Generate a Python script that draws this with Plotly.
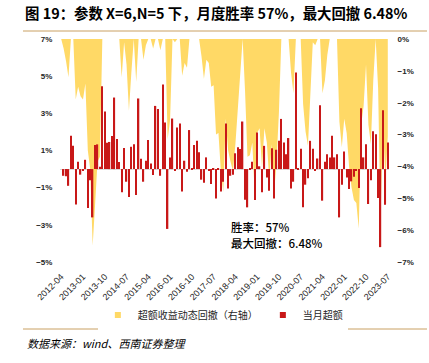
import pandas as pd
import plotly.graph_objects as go

# Months (category axis)
months = list(pd.period_range("2012-04", periods=136, freq="M").strftime("%Y-%m"))
tick_labels = ["2012-04", "2013-01", "2013-10", "2014-07", "2015-04", "2016-01",
               "2016-10", "2017-07", "2018-04", "2019-01", "2019-10", "2020-07",
               "2021-04", "2022-01", "2022-10", "2023-07"]

# Monthly excess return (%) - left axis
monthly_excess = [
    0.0,
    -0.36, -0.38, -0.9, 1.8, 1.25, -1.9, 0.4, -0.3, -0.1, 0.5,
    -2.1, -0.6, -2.6, 1.3, 1.33, 0.12, 4.46, 3.1, 1.42, 1.46,
    1.78, 3.85, 1.62, 0.38, -1.25, 1.13, -0.68, -1.5, 1.2, 1.33,
    -1.4, 3.8, 0.55, -0.68, 0.45, 1.57, 0.3, -0.32, 3.4, 3.23,
    -0.36, 4.55, 2.5, -3.22, 0.63, 2.72, -0.1, 2.24, 2.45, -1.2,
    0.45, -0.14, 2.1, 0.05, 1.3, 1.52, 0.9, -0.57, -0.73, 0.63,
    -0.1, -0.8, 0.05, -1.58, 0.05, -1.2, -0.68, 2.45, -1.04, -0.36,
    -0.3, 0.85, 1.17, 1.08, 2.56, -1.65, -2.06, 0.05, 0.4, -1.67,
    1.97, 0.15, -1.25, 1.25, -0.45, -1.17, 1.12, -1.58, 1.04, 1.52,
    2.7, 1.43, 0.8, 1.67, -1.04, -0.68, 5.2, 0.03, 1.1, -2.06,
    -0.84, -0.5, 1.52, 1.1, -0.1, 0.57, 3.44, -1.7, 0.4, 0.8,
    0.63, 1.8, 0.63, 0.8, -2.6, -0.84, 0.95, -0.45, -1.07, -0.66,
    -0.41, -0.1, -1.02, 3.28, 0.63, 1.34, -1.88, -0.6, 2.03, 1.88,
    -1.56, -4.2, 3.17, -1.92, 1.43,
]

# Dynamic drawdown of excess return (%) - right axis
drawdown = [
    0.0,
    -0.3, -0.7, -1.2, 0.0, 0.0, -1.9, -1.5, -1.8, -1.9, -1.4,
    -3.5, -4.1, -6.48, -5.2, -3.85, -3.7, 0.0, 0.0, 0.0, 0.0,
    0.0, 0.0, 0.0, 0.0, -1.2, -0.1, -0.8, -2.25, -1.05, 0.0,
    -1.35, 0.0, 0.0, -0.65, -0.2, 0.0, 0.0, -0.3, 0.0, 0.0,
    -0.35, 0.0, 0.0, -3.15, -2.55, 0.0, -0.1, 0.0, 0.0, -1.15,
    -0.75, -0.9, 0.0, 0.0, 0.0, 0.0, 0.0, -0.55, -1.25, -0.65,
    -0.75, -1.5, -1.45, -3.0, -2.95, -4.15, -4.8, -2.5, -3.5, -3.85,
    -4.15, -3.3, -2.15, -1.1, 0.0, -1.65, -3.7, -3.65, -3.25, -4.9,
    -2.95, -2.8, -4.05, -2.8, -3.25, -4.4, -3.3, -4.85, -3.85, -2.3,
    0.0, 0.0, 0.0, 0.0, -1.05, -1.7, 0.0, 0.0, 0.0, -2.05,
    -2.9, -3.35, -1.85, -0.1, -0.2, 0.0, 0.0, -1.7, -1.3, -0.5,
    0.0, 0.0, 0.0, 0.0, -2.6, -3.4, -2.5, -2.95, -4.0, -4.65,
    -5.05, -5.15, -5.95, -2.7, -2.1, -0.8, -2.7, -3.3, -1.3, 0.0,
    -1.55, -5.7, -2.55, -4.45, -3.05,
]

assert len(monthly_excess) == len(months) == len(drawdown)

left_ticks = [-5, -3, -1, 1, 3, 5, 7]
left_text = ["−5%", "−3%", "−1%", "1%", "3%", "5%", "7%"]
right_ticks = [0, -1, -2, -3, -4, -5, -6, -7]
right_text = ["0%", "−1%", "−2%", "−3%", "−4%", "−5%", "−6%", "−7%"]

YELLOW = "#FFD966"
RED = "#C81818"
LINE = "#C9A063"
TICKFONT = dict(family="Liberation Sans, Arial, sans-serif", size=8, color="#262626", weight="bold")
CJK = "Noto Sans CJK SC, sans-serif"

fig = go.Figure()

fig.add_trace(go.Scatter(
    x=months, y=drawdown, yaxis="y", mode="lines", fill="tozeroy",
    line=dict(width=0, color=YELLOW), fillcolor=YELLOW,
    showlegend=False, hoverinfo="skip",
))
fig.add_trace(go.Bar(
    x=months, y=monthly_excess, yaxis="y2",
    marker=dict(color=RED, line=dict(width=0)),
    showlegend=False,
))
# legend entries
fig.add_trace(go.Scatter(
    x=[None], y=[None], mode="markers", name="超额收益动态回撤（右轴）",
    marker=dict(symbol="square", size=6, color=YELLOW),
))
fig.add_trace(go.Scatter(
    x=[None], y=[None], mode="markers", name="当月超额",
    marker=dict(symbol="square", size=6, color=RED),
))

fig.update_layout(
    width=429, height=363, autosize=False,
    margin=dict(l=60, r=40, t=39, b=101),
    paper_bgcolor="white", plot_bgcolor="white",
    bargap=0.45,
    title=dict(
        text="图 19：参数 X=6,N=5 下，月度胜率 57%，最大回撤 6.48%",
        x=25 / 429, xanchor="left", y=1 - 14 / 363, yanchor="middle",
        font=dict(family=CJK, size=14.4, color="#000000", weight="bold"),
    ),
    xaxis=dict(
        type="category", range=[-0.5, len(months) - 0.5],
        tickmode="array", tickvals=tick_labels, ticktext=tick_labels,
        tickangle=-45, tickfont=dict(family="Liberation Sans, Arial, sans-serif", size=9, color="#262626"),
        ticks="outside", ticklen=5, tickcolor="rgba(0,0,0,0)",
        showgrid=False, showline=False, zeroline=False,
    ),
    yaxis=dict(
        side="right", range=[-7, 0], tickmode="array", tickvals=right_ticks, ticktext=right_text,
        tickfont=TICKFONT, showgrid=False, zeroline=False, showline=False,
        ticks="outside", ticklen=6, tickcolor="rgba(0,0,0,0)",
    ),
    yaxis2=dict(
        side="left", overlaying="y", range=[-5, 7], tickmode="array", tickvals=left_ticks, ticktext=left_text,
        tickfont=TICKFONT, showgrid=False, showline=False,
        zeroline=True, zerolinecolor="#D9D9D9", zerolinewidth=1,
        ticks="outside", ticklen=5, tickcolor="rgba(0,0,0,0)",
    ),
    legend=dict(
        orientation="h", x=0.495, xanchor="center", y=-0.238, yanchor="middle",
        font=dict(family=CJK, size=10, color="#262626"),
        itemwidth=30, tracegroupgap=0,
    ),
    shapes=[
        dict(type="line", xref="paper", yref="paper", x0=-0.1125, x1=1.1155,
             y0=(262 - 31) / 223, y1=(262 - 31) / 223, line=dict(color=LINE, width=1)),
        dict(type="line", xref="paper", yref="paper", x0=-0.1125, x1=1.1155,
             y0=(262 - 329) / 223, y1=(262 - 329) / 223, line=dict(color=LINE, width=1)),
    ],
    annotations=[
        dict(text="胜率：57%", xref="paper", yref="paper", x=(229 - 60) / 329, y=(262 - 227) / 223,
             xanchor="left", yanchor="middle", showarrow=False,
             font=dict(family=CJK, size=11.5, color="#000000", weight=500)),
        dict(text="最大回撤：6.48%", xref="paper", yref="paper", x=(229 - 60) / 329, y=(262 - 243) / 223,
             xanchor="left", yanchor="middle", showarrow=False,
             font=dict(family=CJK, size=11.5, color="#000000", weight=500)),
        dict(text="<i>数据来源：wind、西南证券整理</i>", xref="paper", yref="paper",
             x=(25 - 60) / 329, y=(262 - 343) / 223, xanchor="left", yanchor="middle",
             showarrow=False, font=dict(family=CJK, size=11, color="#000000")),
    ],
)

fig.write_html("out.html", config={"displayModeBar": False},
               post_script="document.body.style.margin='0';")
